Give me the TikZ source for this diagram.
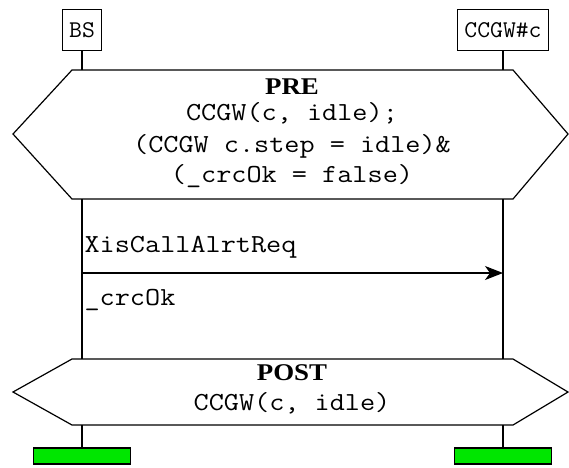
\documentclass[tikz,border=0pt]{standalone}
\usepackage{fontspec}
\newfontfamily\msgfont[FakeStretch=1.13]{Latin Modern Mono}
\newfontfamily\boxfont[FakeStretch=1.04]{Latin Modern Mono}
\newfontfamily\headfont[FakeStretch=1.12]{Liberation Serif}
\usetikzlibrary{positioning, arrows.meta}
\definecolor{endgreen}{RGB}{0,230,0}
\tikzset{node distance=421pt, % Distance between the two lifelines
instance/.style={ % Sets the properties for each instance head
draw, minimum height=41pt, inner xsep=7pt,
font=\boxfont\fontsize{24}{28}\selectfont},
endbar/.style={ % Instance end marks
draw, fill=endgreen, minimum width=97pt, minimum height=16pt, inner sep=0pt},
cond/.style={draw, fill=white}, % PRE and POST conditions
condhead/.style={anchor=base, inner sep=0pt,
font=\headfont\bfseries\fontsize{24}{28}\selectfont},
txt/.style={anchor=base, inner sep=0pt,
font=\msgfont\fontsize{26}{30}\selectfont},
msg/.style={ % Sets the properties for each message
draw,->,>={Stealth[length=18pt,width=14pt,inset=5pt]}}}

\begin{document}
\begin{tikzpicture}[x=1pt, y=-1pt, line width=1.2pt]
    \useasboundingbox (0,0) rectangle (569,467);

    \node[instance] (bs) at (82,30) {BS};
    \node[instance, right of=bs] (ccgw) {CCGW\#c};

    % PRE condition
    \coordinate (preTL) at (72,70);
    \coordinate (preTR) at (513,70);
    \coordinate (preR) at (568,134);
    \coordinate (preBR) at (513,199);
    \coordinate (preBL) at (72,199);
    \coordinate (preL) at (13,134);
    \draw[cond] (preTL) -- (preTR) -- (preR) -- (preBR) -- (preBL) -- (preL) -- cycle;
    \node[condhead] (pre) at (292,94) {PRE};
    \node[txt] (pre1) at (292,120) {CCGW(c, idle);};
    \node[txt] (pre2) at (292,152) {(CCGW c.step = idle)\&};
    \node[txt] (pre3) at (292,182) {(\_crcOk = false)};

    % POST condition
    \coordinate (postTL) at (72,359);
    \coordinate (postTR) at (513,359);
    \coordinate (postR) at (568,392);
    \coordinate (postBR) at (513,425);
    \coordinate (postBL) at (72,425);
    \coordinate (postL) at (13,392);
    \draw[cond] (postTL) -- (postTR) -- (postR) -- (postBR) -- (postBL) -- (postL) -- cycle;
    \node[condhead] (post) at (292,380) {POST};
    \node[txt] (post1) at (292,410) {CCGW(c, idle)};

    % end marks
    \coordinate (endline) at (0,456);
    \node[endbar] (bsEnd) at (bs |- endline) {};
    \node[endbar] (ccgwEnd) at (ccgw |- endline) {};

    % lifelines
    \draw (bs) -- (bs |- preTL);
    \draw (bs |- preBL) -- (bs |- postTL);
    \draw (bs |- postBL) -- (bsEnd);
    \draw (ccgw) -- (ccgw |- preTR);
    \draw (ccgw |- preBR) -- (ccgw |- postTR);
    \draw (ccgw |- postBR) -- (ccgwEnd);

    % message
    \coordinate (msgline) at (0,273);
    \draw[msg] (bs |- msgline) -- (ccgw |- msgline);
    \node[txt, anchor=base west] (sig) at (84,252) {XisCallAlrtReq};
    \node[txt, anchor=base west] (crc) at (84,305) {\_crcOk};

\end{tikzpicture}
\end{document}
